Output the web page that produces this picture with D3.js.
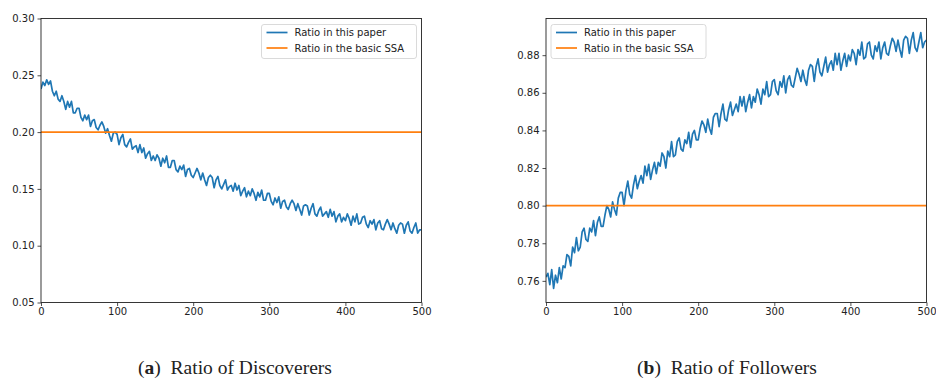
<!DOCTYPE html>
<html>
<head>
<meta charset="utf-8">
<script src="https://cdn.jsdelivr.net/npm/d3@7"></script>
<style>
	body { margin: 0; background: #fff; }
	svg text { fill: #222; }
	.tick text { font-family: 'DejaVu Sans', sans-serif; font-size: 10px; }
	.caption { font-family: 'Liberation Serif', serif; font-size: 19.5px; }
	.legend-text { font-family: 'DejaVu Sans', sans-serif; font-size: 10px; }
</style>
</head>
<body>
<svg id="chart" width="936" height="378"></svg>
<script>
const xStep = 2.5;
const xTicks = [0, 100, 200, 300, 400, 500];
const seriesNames = ['Ratio in this paper', 'Ratio in the basic SSA'];

// (a) discoverers, one value every 2.5 iterations
const discoverers = [
	0.238, 0.244, 0.241, 0.246, 0.242, 0.245, 0.236, 0.232, 0.236, 0.229,
	0.227, 0.232, 0.227, 0.220, 0.227, 0.222, 0.227, 0.217, 0.217, 0.221,
	0.221, 0.213, 0.210, 0.215, 0.211, 0.215, 0.205, 0.210, 0.211, 0.204,
	0.202, 0.206, 0.209, 0.205, 0.199, 0.203, 0.197, 0.192, 0.199, 0.200,
	0.198, 0.189, 0.195, 0.198, 0.189, 0.187, 0.191, 0.194, 0.185, 0.187,
	0.188, 0.182, 0.189, 0.182, 0.186, 0.177, 0.181, 0.183, 0.175, 0.179,
	0.175, 0.180, 0.177, 0.170, 0.177, 0.173, 0.179, 0.169, 0.169, 0.175,
	0.175, 0.167, 0.165, 0.170, 0.167, 0.171, 0.161, 0.167, 0.168, 0.162,
	0.160, 0.164, 0.168, 0.164, 0.158, 0.164, 0.158, 0.153, 0.160, 0.162,
	0.160, 0.151, 0.158, 0.161, 0.153, 0.150, 0.154, 0.158, 0.149, 0.152,
	0.153, 0.148, 0.155, 0.149, 0.153, 0.144, 0.148, 0.151, 0.143, 0.148,
	0.144, 0.150, 0.146, 0.140, 0.147, 0.143, 0.149, 0.140, 0.140, 0.146,
	0.146, 0.139, 0.136, 0.142, 0.138, 0.143, 0.133, 0.139, 0.140, 0.134,
	0.132, 0.137, 0.140, 0.137, 0.131, 0.137, 0.132, 0.127, 0.135, 0.136,
	0.135, 0.127, 0.133, 0.137, 0.128, 0.126, 0.131, 0.134, 0.126, 0.128,
	0.130, 0.125, 0.132, 0.126, 0.130, 0.121, 0.126, 0.128, 0.121, 0.125,
	0.122, 0.128, 0.124, 0.118, 0.126, 0.121, 0.128, 0.119, 0.120, 0.125,
	0.126, 0.119, 0.116, 0.122, 0.119, 0.123, 0.114, 0.120, 0.122, 0.115,
	0.114, 0.119, 0.123, 0.119, 0.114, 0.120, 0.115, 0.111, 0.118, 0.120,
	0.119, 0.111, 0.118, 0.121, 0.113, 0.111, 0.116, 0.120, 0.111, 0.114,
	0.114,
];
const discoverersBasic = 0.2;
const discoverersTicks = [0.05, 0.10, 0.15, 0.20, 0.25, 0.30];

// (b) followers
const followers = [
	0.762, 0.764, 0.758, 0.766, 0.756, 0.763, 0.759, 0.767, 0.761, 0.768,
	0.767, 0.774, 0.773, 0.768, 0.778, 0.775, 0.783, 0.776, 0.778, 0.786,
	0.788, 0.782, 0.781, 0.788, 0.786, 0.792, 0.784, 0.791, 0.794, 0.789,
	0.789, 0.795, 0.800, 0.798, 0.794, 0.802, 0.798, 0.795, 0.804, 0.807,
	0.807, 0.800, 0.808, 0.813, 0.806, 0.804, 0.811, 0.816, 0.809, 0.813,
	0.816, 0.812, 0.821, 0.816, 0.822, 0.814, 0.819, 0.823, 0.817, 0.823,
	0.821, 0.828, 0.826, 0.820, 0.829, 0.826, 0.834, 0.826, 0.827, 0.834,
	0.836, 0.830, 0.829, 0.835, 0.833, 0.839, 0.831, 0.838, 0.840, 0.835,
	0.835, 0.841, 0.845, 0.843, 0.839, 0.846, 0.841, 0.838, 0.847, 0.849,
	0.849, 0.842, 0.849, 0.854, 0.846, 0.845, 0.851, 0.855, 0.848, 0.851,
	0.854, 0.850, 0.858, 0.853, 0.858, 0.850, 0.855, 0.859, 0.852, 0.858,
	0.855, 0.862, 0.859, 0.854, 0.862, 0.859, 0.866, 0.858, 0.859, 0.866,
	0.867, 0.861, 0.859, 0.866, 0.863, 0.869, 0.860, 0.867, 0.869, 0.864,
	0.863, 0.868, 0.873, 0.870, 0.866, 0.872, 0.867, 0.864, 0.872, 0.875,
	0.874, 0.866, 0.874, 0.878, 0.871, 0.869, 0.874, 0.879, 0.871, 0.875,
	0.877, 0.872, 0.881, 0.875, 0.881, 0.872, 0.877, 0.881, 0.874, 0.880,
	0.877, 0.883, 0.881, 0.875, 0.883, 0.880, 0.887, 0.878, 0.879, 0.886,
	0.887, 0.880, 0.878, 0.885, 0.882, 0.887, 0.878, 0.884, 0.887, 0.881,
	0.880, 0.885, 0.889, 0.887, 0.882, 0.888, 0.883, 0.879, 0.888, 0.890,
	0.889, 0.881, 0.888, 0.892, 0.884, 0.882, 0.887, 0.892, 0.884, 0.887,
	0.888,
];
const followersBasic = 0.8;
const followersTicks = [0.76, 0.78, 0.80, 0.82, 0.84, 0.86, 0.88];

const panels = [
	{ values: discoverers, basic: discoverersBasic, yDomain: [0.05, 0.30], yTicks: discoverersTicks,
		left: 41, right: 421.5, legendLeft: false, letter: 'a', caption: 'Ratio of Discoverers', captionX: 235 },
	{ values: followers, basic: followersBasic, yDomain: [0.7485, 0.8995], yTicks: followersTicks,
		left: 546, right: 926.5, legendLeft: true, letter: 'b', caption: 'Ratio of Followers', captionX: 727 },
];

const colors = ['#1f77b4', '#ff7f0e'];
const plotTop = 18.5;
const plotBottom = 302.5;
const svg = d3.select('#chart');

for (const panel of panels) {
	const x = d3.scaleLinear().domain([0, 500]).range([panel.left, panel.right]);
	const y = d3.scaleLinear().domain(panel.yDomain).range([plotBottom, plotTop]);
	const g = svg.append('g');

	const clipId = `clip-${panel.letter}`;
	g.append('clipPath')
		.attr('id', clipId)
		.append('rect')
		.attr('x', panel.left)
		.attr('y', plotTop)
		.attr('width', panel.right - panel.left)
		.attr('height', plotBottom - plotTop);

	const line = d3.line()
		.x((d, i) => x(i * xStep))
		.y((d) => y(d));
	g.append('path')
		.datum(panel.values)
		.attr('clip-path', `url(#${clipId})`)
		.attr('d', line)
		.attr('fill', 'none')
		.attr('stroke', colors[0])
		.attr('stroke-width', 1.7)
		.attr('stroke-linejoin', 'round');

	g.append('line')
		.attr('x1', x(0))
		.attr('x2', x(500))
		.attr('y1', y(panel.basic))
		.attr('y2', y(panel.basic))
		.attr('stroke', colors[1])
		.attr('stroke-width', 1.7);

	// axes
	const xAxis = d3.axisBottom(x).tickValues(xTicks).tickSize(3.5).tickPadding(2).tickFormat(d3.format('d'));
	g.append('g')
		.attr('transform', `translate(0,${plotBottom})`)
		.call(xAxis)
		.call((a) => a.select('.domain').remove());
	const yAxis = d3.axisLeft(y).tickValues(panel.yTicks).tickSize(3.5).tickPadding(3).tickFormat(d3.format('.2f'));
	g.append('g')
		.attr('transform', `translate(${panel.left},0)`)
		.call(yAxis)
		.call((a) => a.select('.domain').remove());
	g.selectAll('.tick line').attr('stroke', '#222').attr('stroke-width', 0.8);

	g.append('rect')
		.attr('x', panel.left)
		.attr('y', plotTop)
		.attr('width', panel.right - panel.left)
		.attr('height', plotBottom - plotTop)
		.attr('fill', 'none')
		.attr('stroke', '#222')
		.attr('stroke-width', 0.9);

	// legend
	const lx = panel.legendLeft ? panel.left + 5 : panel.right - 160;
	const legend = g.append('g').attr('transform', `translate(${lx},24.5)`);
	legend.append('rect')
		.attr('width', 155)
		.attr('height', 34)
		.attr('rx', 2.5)
		.attr('fill', 'white')
		.attr('fill-opacity', 0.8)
		.attr('stroke', '#d0d0d0')
		.attr('stroke-width', 0.8);
	seriesNames.forEach((name, i) => {
		const ly = 8 + i * 15.5;
		legend.append('line')
			.attr('x1', 5)
			.attr('x2', 26)
			.attr('y1', ly)
			.attr('y2', ly)
			.attr('stroke', colors[i])
			.attr('stroke-width', 1.7);
		legend.append('text')
			.attr('class', 'legend-text')
			.attr('x', 33)
			.attr('y', ly + 3.6)
			.text(name);
	});

	const caption = svg.append('text')
		.attr('class', 'caption')
		.attr('x', panel.captionX)
		.attr('y', 374)
		.attr('text-anchor', 'middle');
	caption.append('tspan').text('(');
	caption.append('tspan').attr('font-weight', 'bold').text(panel.letter);
	caption.append('tspan').text(')\u2002' + panel.caption);
}
</script>
</body>
</html>
